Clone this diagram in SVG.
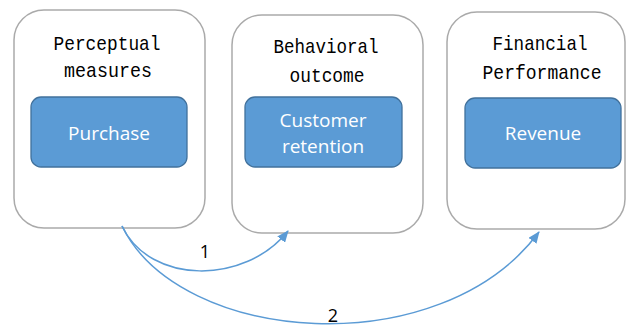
<svg xmlns="http://www.w3.org/2000/svg" width="626" height="326" viewBox="0 0 626 326">
<defs>
<style>
.outer{fill:#fff;stroke:#aaa;stroke-width:1.5}
.inner{fill:#5B9BD5;stroke:#41719C;stroke-width:1.3}
.title{font-family:"Liberation Mono","DejaVu Sans Mono",monospace;font-size:21px;fill:#000;text-anchor:middle}
.label{font-family:"Open Sans","Noto Sans",sans-serif;font-size:19px;fill:#fff;text-anchor:middle}
.num{font-family:"Open Sans","Noto Sans",sans-serif;font-size:18px;fill:#000;text-anchor:middle}
.conn{fill:none;stroke:#5B9BD5;stroke-width:1.5}
</style>
<marker id="arr" viewBox="0 0 12 10" refX="11" refY="5" markerWidth="12" markerHeight="10" markerUnits="userSpaceOnUse" orient="auto">
<path d="M0,0 L12,5 L0,10 Z" fill="#5B9BD5"/>
</marker>
</defs>
<g id="node-perceptual">
<rect class="outer" x="14" y="10" width="191" height="218" rx="30"/>
<text class="title" x="107" y="50" textLength="107" lengthAdjust="spacingAndGlyphs">Perceptual</text>
<text class="title" x="108" y="77" textLength="88" lengthAdjust="spacingAndGlyphs">measures</text>
<rect class="inner" x="31" y="97" width="156" height="70" rx="10"/>
<text class="label" x="109" y="140">Purchase</text>
</g>
<g id="node-behavioral">
<rect class="outer" x="232" y="15" width="191" height="218" rx="30"/>
<text class="title" x="326" y="53" textLength="105" lengthAdjust="spacingAndGlyphs">Behavioral</text>
<text class="title" x="327" y="82" textLength="75" lengthAdjust="spacingAndGlyphs">outcome</text>
<rect class="inner" x="245" y="97" width="157" height="70" rx="10"/>
<text class="label" x="323" y="127">Customer</text>
<text class="label" x="323" y="153">retention</text>
</g>
<g id="node-financial">
<rect class="outer" x="447" y="12" width="178" height="217" rx="30"/>
<text class="title" x="540" y="50" textLength="95" lengthAdjust="spacingAndGlyphs">Financial</text>
<text class="title" x="542" y="79" textLength="119" lengthAdjust="spacingAndGlyphs">Performance</text>
<rect class="inner" x="465" y="98" width="156" height="70" rx="10"/>
<text class="label" x="543" y="140">Revenue</text>
</g>
<g id="connectors">
<path class="conn" d="M122,226 C150,285 245,285 288,231" marker-end="url(#arr)"/>
<path class="conn" d="M122,226 C180,345 440,365 539,232" marker-end="url(#arr)"/>
<text class="num" x="205" y="258">1</text>
<text class="num" x="333" y="322">2</text>
</g>
</svg>
